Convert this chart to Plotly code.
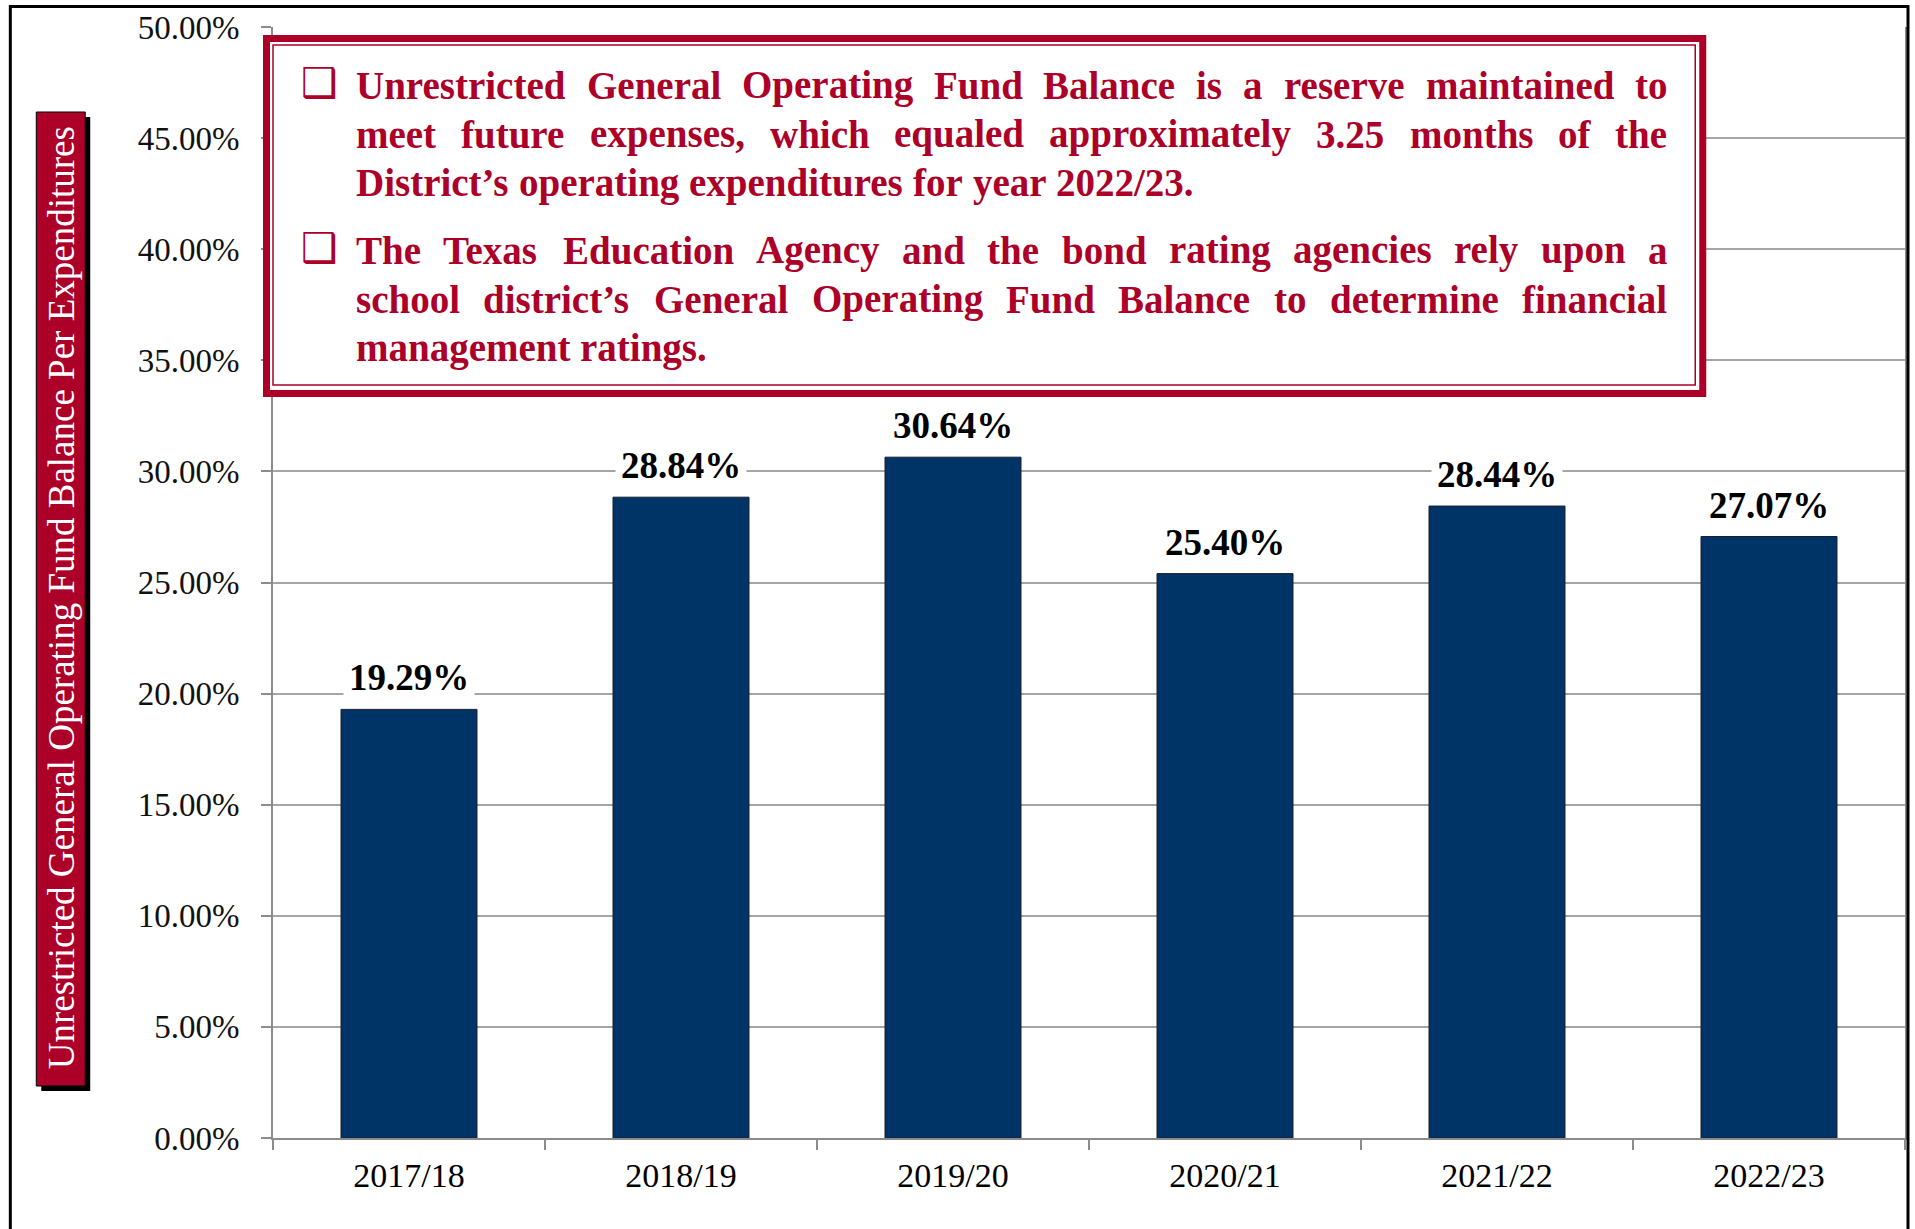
import plotly.graph_objects as go

# ---------------- data ----------------
categories = ["2017/18", "2018/19", "2019/20", "2020/21", "2021/22", "2022/23"]
values = [19.29, 28.84, 30.64, 25.40, 28.44, 27.07]
y_ticks = [0, 5, 10, 15, 20, 25, 30, 35, 40, 45, 50]
y_tick_labels = [f"{v:.2f}%" for v in y_ticks]
y_title = "Unrestricted General Operating Fund Balance Per Expenditures"
note_lines_p1 = [
    "Unrestricted General Operating Fund Balance is a reserve maintained to",
    "meet future expenses, which equaled approximately 3.25 months of the",
    "District\u2019s operating expenditures for year 2022/23.",
]
note_lines_p2 = [
    "The Texas Education Agency and the bond rating agencies rely upon a",
    "school district\u2019s General Operating Fund Balance to determine financial",
    "management ratings.",
]

# ---------------- styling ----------------
W, H = 1915, 1229
L, R, T, B = 273, 8, 27, 91
PW, PH = W - L - R, H - T - B
RED = "#AD0029"
NAVY = "#003366"
GRID = "#A6A6A6"
AXIS = "#8C8C8C"
SERIF = "Liberation Serif, Times New Roman, serif"


def px(x):
    return (x - L) / PW


def py(y):
    return (H - B - y) / PH


# Times-Bold advance widths (per 1000 em) for justification
TB = {' ': 250, ',': 250, '.': 250, '/': 278, '%': 1000, '\u2019': 333, "'": 278, '-': 333,
      'A': 722, 'B': 667, 'C': 722, 'D': 722, 'E': 667, 'F': 611, 'G': 778, 'H': 778, 'I': 389,
      'J': 500, 'K': 778, 'L': 667, 'M': 944, 'N': 722, 'O': 778, 'P': 611, 'Q': 778, 'R': 722,
      'S': 556, 'T': 667, 'U': 722, 'V': 722, 'W': 1000, 'X': 722, 'Y': 722, 'Z': 667,
      'a': 500, 'b': 556, 'c': 444, 'd': 556, 'e': 444, 'f': 333, 'g': 500, 'h': 556, 'i': 278,
      'j': 333, 'k': 556, 'l': 278, 'm': 833, 'n': 556, 'o': 500, 'p': 556, 'q': 556, 'r': 444,
      's': 389, 't': 333, 'u': 556, 'v': 500, 'w': 722, 'x': 500, 'y': 500, 'z': 444}
for d in "0123456789":
    TB[d] = 500


def wwidth(s, fs):
    return sum(TB.get(ch, 500) for ch in s) * fs / 1000.0


fig = go.Figure()
fig.add_trace(go.Bar(
    x=categories, y=values,
    marker=dict(color=NAVY, line=dict(color="#1a1f2e", width=1)),
    hoverinfo="x+y",
))

annotations = []
# data labels
for c, v in zip(categories, values):
    annotations.append(dict(
        x=c, y=v, xref="x", yref="y", text=f"<b>{v:.2f}%</b>", showarrow=False,
        yanchor="bottom", yshift=5, bgcolor="white", borderpad=5,
        font=dict(family=SERIF, size=37, color="black"),
    ))

shapes = []
# outer frame
shapes.append(dict(type="rect", xref="paper", yref="paper", x0=px(10), x1=px(1910),
                   y0=py(1270), y1=py(6.5), line=dict(color="black", width=3),
                   fillcolor="rgba(0,0,0,0)", layer="above"))
# y title box with shadow
shapes.append(dict(type="rect", xref="paper", yref="paper", x0=px(41), x1=px(90),
                   y0=py(1091), y1=py(117), line=dict(width=0), fillcolor="black", layer="above"))
shapes.append(dict(type="rect", xref="paper", yref="paper", x0=px(36), x1=px(85),
                   y0=py(1086), y1=py(112), line=dict(color="black", width=1),
                   fillcolor=RED, layer="above"))
annotations.append(dict(
    x=px(61), y=py(598), xref="paper", yref="paper", text=y_title, textangle=-90,
    showarrow=False, xanchor="center", yanchor="middle",
    font=dict(family=SERIF, size=37, color="white"),
))
# note box (double border)
shapes.append(dict(type="rect", xref="paper", yref="paper", x0=px(266.5), x1=px(1704.5),
                   y0=py(393.5), y1=py(38.5), line=dict(color=RED, width=7),
                   fillcolor="white", layer="above"))
shapes.append(dict(type="rect", xref="paper", yref="paper", x0=px(273), x1=px(1697),
                   y0=py(385), y1=py(45), line=dict(color=RED, width=1.5),
                   fillcolor="rgba(0,0,0,0)", layer="above"))

FS = 39
TX0, TX1 = 355, 1668
baselines = [97, 146, 195, 262, 311, 360]
all_lines = [(l, i < len(note_lines_p1) - 1) for i, l in enumerate(note_lines_p1)] + \
            [(l, i < len(note_lines_p2) - 1) for i, l in enumerate(note_lines_p2)]
for (line, justify), base in zip(all_lines, baselines):
    words = line.split(" ")
    widths = [wwidth(w, FS) for w in words]
    space = wwidth(" ", FS)
    if justify and len(words) > 1:
        gap = max(space, (TX1 - TX0 - sum(widths)) / (len(words) - 1))
    else:
        gap = space
    x = TX0
    for w, wd in zip(words, widths):
        annotations.append(dict(
            x=px(x), y=py(base - 12), xref="paper", yref="paper", text=f"<b>{w}</b>",
            showarrow=False, xanchor="left", yanchor="middle", borderpad=0,
            font=dict(family=SERIF, size=FS, color=RED),
        ))
        x += wd + gap
for base in (baselines[0], baselines[3]):
    annotations.append(dict(
        x=px(300), y=py(base - 14), xref="paper", yref="paper", text="<b>\u2751</b>",
        showarrow=False, xanchor="left", yanchor="middle", borderpad=0,
        font=dict(family="DejaVu Sans", size=41, color=RED),
    ))

fig.update_layout(
    width=W, height=H,
    margin=dict(l=L, r=R, t=T, b=B, pad=0),
    paper_bgcolor="white", plot_bgcolor="white",
    bargap=0.5, showlegend=False,
    font=dict(family=SERIF, color="black"),
    shapes=shapes, annotations=annotations,
    xaxis=dict(
        showline=True, linecolor=AXIS, linewidth=2,
        ticks="outside", tickson="boundaries", ticklen=10, tickwidth=2, tickcolor=AXIS,
        tickfont=dict(family=SERIF, size=34, color="black"), ticklabelstandoff=6,
        showgrid=False,
    ),
    yaxis=dict(
        range=[0, 50], tickvals=y_ticks, ticktext=y_tick_labels,
        showgrid=True, gridcolor=GRID, gridwidth=2, zeroline=False,
        showline=True, linecolor=AXIS, linewidth=2, mirror=True,
        ticks="outside", ticklen=10, tickwidth=2, tickcolor=AXIS,
        tickfont=dict(family=SERIF, size=33, color="#111111"), ticklabelstandoff=15,
    ),
)

fig.write_html(
    "out.html",
    config={"displayModeBar": False},
    post_script="document.body.style.margin='0';document.body.style.overflow='hidden';",
)
